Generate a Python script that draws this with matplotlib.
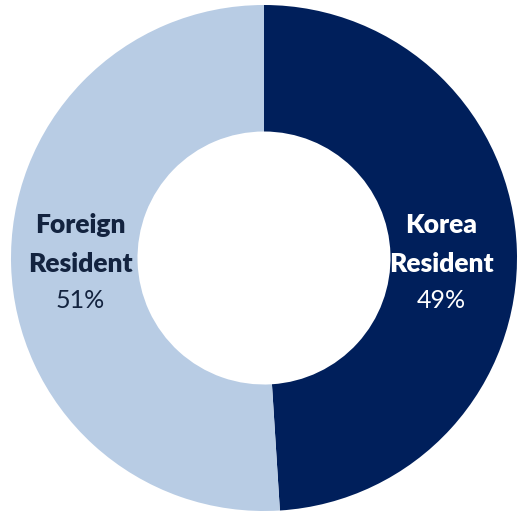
import matplotlib
matplotlib.use('Agg')
import matplotlib.pyplot as plt

# Residency split
names = [('Korea', 'Resident'), ('Foreign', 'Resident')]
shares = [49, 51]
colors = ['#001f5b', '#b8cce4']
text_colors = ['white', '#13233f']

plt.rcParams['font.family'] = ['Lato', 'DejaVu Sans']

fig = plt.figure(figsize=(5.2, 5.15), dpi=100)
ax = fig.add_axes([0, 0, 1, 1])

R = 253
wedges, _ = ax.pie(shares, colors=colors, radius=R, startangle=90, counterclock=False,
                   wedgeprops=dict(width=R * 0.5, linewidth=0))

ax.set_aspect('auto')
ax.set_xlim(-264, 520 - 264)
ax.set_ylim(-(515 - 258), 258)
ax.axis('off')

# label anchors (pixel offsets from centre), one text per line
label_x = [177, -184]
for x, (l1, l2), val, tc in zip(label_x, names, shares, text_colors):
    ax.text(x, 33, l1, ha='center', va='center', fontsize=19, fontweight='heavy', color=tc)
    ax.text(x, -6, l2, ha='center', va='center', fontsize=19, fontweight='heavy', color=tc)
    ax.text(x, -43, f'{val}%', ha='center', va='center', fontsize=18,
            fontweight='normal', color=tc)

fig.savefig('out.png', dpi=100)
